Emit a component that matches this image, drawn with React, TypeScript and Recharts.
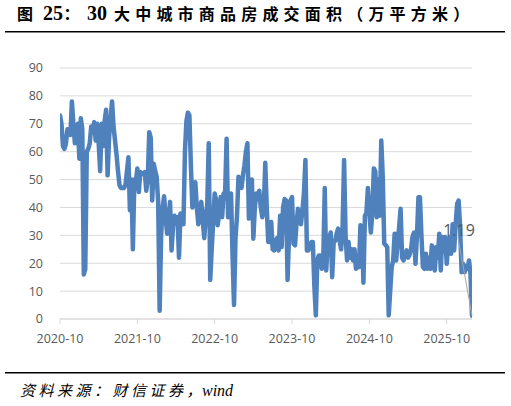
import React from "react";
import { LineChart, Line, XAxis, YAxis, CartesianGrid, ReferenceDot } from "recharts";

// Weekly transaction area, 30 large & mid cities (10k sqm), from 2020-10
const values: number[] = [
  73, 70, 62, 61, 63, 68, 67, 66, 78, 70, 63, 68, 70,
  57.5, 72, 68, 16, 18, 60, 61, 63, 69, 67, 70.6, 64, 70,
  63, 53, 70, 62, 71, 75, 51.5, 65, 72, 78, 69, 64, 59,
  53, 48, 47, 47, 47, 48, 53, 58, 39, 50, 25, 50, 49,
  54, 45.5, 52.7, 52, 52, 52.7, 46, 50, 67, 65, 42.5, 55.7, 53,
  51, 42, 3, 30, 40, 44, 36.5, 30.6, 36, 42, 24.6, 33, 37,
  36, 36.5, 22, 37.8, 36, 34, 60, 71, 74, 73, 55, 40, 44,
  49, 40, 34, 38, 42, 35, 29, 37, 41, 63, 14, 25, 35,
  45, 42.5, 33.6, 38, 43.7, 36.5, 45, 45, 64.6, 36.5, 40, 45, 23,
  5, 29, 37, 51, 49, 47, 51.5, 55, 60, 63, 36, 44, 50,
  28.8, 40, 45, 43, 46, 40, 36.5, 39, 56, 40, 27.6, 27.6, 34.8,
  25, 24.6, 28, 29, 24.6, 37, 25.8, 40, 43, 42.5, 14, 30, 42.5,
  43.7, 27, 26.4, 34, 39.5, 37.8, 34, 39, 45, 57, 24.6, 24.6, 26,
  27.6, 27.6, 12, 1.3, 21, 22.8, 22.8, 18, 21, 47, 17.4, 28, 29,
  31, 15, 27.6, 28, 30.6, 32.4, 28, 25, 33, 57, 30, 21, 27.6,
  22, 25, 21, 25, 18, 22, 18.6, 33.6, 33, 13, 37, 38, 47,
  38, 31, 38, 54, 53, 36.5, 50, 37, 64, 51, 27, 26.5, 25.8,
  1.3, 10, 18.6, 21, 30.6, 21, 27, 33, 39.5, 22, 21, 23, 24.6,
  22, 23, 25, 29.4, 31, 19.8, 30, 43.7, 43.7, 30, 18.6, 18, 23.4,
  18, 22, 18, 26.4, 20, 17.4, 25.8, 22, 30.6, 17.4, 29.4, 25.8, 29.4,
  19.8, 27, 29.4, 23.4, 34, 24.6, 34, 41.3, 42.5, 33, 16.8, 19.8, 16.8,
  19, 18, 21, 16, 1.19,
];

const tickWeeks: number[] = [0, 52, 104, 156, 208, 260];
const tickLabels: string[] = ["2020-10", "2021-10", "2022-10", "2023-10", "2024-10", "2025-10"];
const yTicks: number[] = [0, 10, 20, 30, 40, 50, 60, 70, 80, 90];

const data = values.map((v, i) => ({ i, v }));
const lastIndex = values.length - 1;
const lastValue = values[lastIndex];

const CJK = '"Noto Sans CJK SC", sans-serif';
const SERIF = '"Liberation Serif", "Times New Roman", serif';
const TICK_FONT = '"Open Sans", sans-serif';

const LastLabel = (props: any) => {
  const { cx, cy } = props;
  if (cx == null || cy == null) return <g />;
  return (
    <g>
      <line x1={cx - 14} y1={cy - 78} x2={cx} y2={cy} stroke="#a6a6a6" strokeWidth={1} />
      <text
        x={cx - 13}
        y={cy - 80}
        textAnchor="middle"
        fontFamily={TICK_FONT}
        fontSize={16}
        fill="#595959"
      >
        {String(lastValue)}
      </text>
    </g>
  );
};

export default function App() {
  return (
    <div style={{ position: "absolute", left: 0, top: 0, width: 511, height: 406, background: "#ffffff" }}>
      <LineChart
        width={511}
        height={406}
        data={data}
        margin={{ top: 68, right: 39, bottom: 57, left: 0 }}
        style={{ position: "absolute", left: 0, top: 0 }}
      >
        <CartesianGrid vertical={false} stroke="#d9d9d9" strokeWidth={1} />
        <XAxis
          type="number"
          dataKey="i"
          domain={[0, lastIndex]}
          ticks={tickWeeks}
          tickFormatter={(w: number) => tickLabels[tickWeeks.indexOf(w)] ?? ""}
          height={30}
          axisLine={{ stroke: "#d9d9d9" }}
          tickLine={{ stroke: "#d9d9d9" }}
          tickSize={5}
          tickMargin={10}
          tick={{ fill: "#595959", fontSize: 12.5, fontFamily: TICK_FONT }}
          interval={0}
          allowDataOverflow
        />
        <YAxis
          domain={[0, 90]}
          ticks={yTicks}
          width={60}
          axisLine={false}
          tickLine={false}
          tickSize={6}
          tickMargin={11}
          tick={{ fill: "#595959", fontSize: 12.5, fontFamily: TICK_FONT }}
          interval={0}
        />
        <Line
          type="linear"
          dataKey="v"
          stroke="#4f81bd"
          strokeWidth={4.5}
          strokeLinejoin="round"
          strokeLinecap="round"
          dot={false}
          activeDot={false}
          isAnimationActive={false}
        />
        <ReferenceDot x={lastIndex} y={lastValue} r={0} ifOverflow="visible" shape={LastLabel} />
      </LineChart>
      <svg width={511} height={406} style={{ position: "absolute", left: 0, top: 0, pointerEvents: "none" }}>
        <text y={20} fontWeight="bold" fill="#000">
          <tspan x={17} fontFamily={CJK} fontSize={16}>图</tspan>
          <tspan x={43} fontFamily={SERIF} fontSize={20}>25</tspan>
          <tspan x={63.5} fontFamily={CJK} fontSize={16}>：</tspan>
          <tspan x={87} fontFamily={SERIF} fontSize={20}>30</tspan>
          <tspan x={114} fontFamily={CJK} fontSize={16} letterSpacing={5.2}>
            大中城市商品房成交面积（万平方米）
          </tspan>
        </text>
        <line x1={5} y1={31.7} x2={505} y2={31.7} stroke="#000" strokeWidth={1.5} />
        <line x1={5} y1={372.8} x2={505} y2={372.8} stroke="#000" strokeWidth={1.5} />
        <text y={396} fontStyle="italic" fill="#000">
          <tspan x={20} fontFamily={CJK} fontSize={15} letterSpacing={3.5}>
            资料来源：财信证券
          </tspan>
          <tspan x={186.5} fontFamily={CJK} fontSize={15}>，</tspan>
          <tspan x={202} fontFamily={SERIF} fontSize={16}>wind</tspan>
        </text>
      </svg>
    </div>
  );
}
